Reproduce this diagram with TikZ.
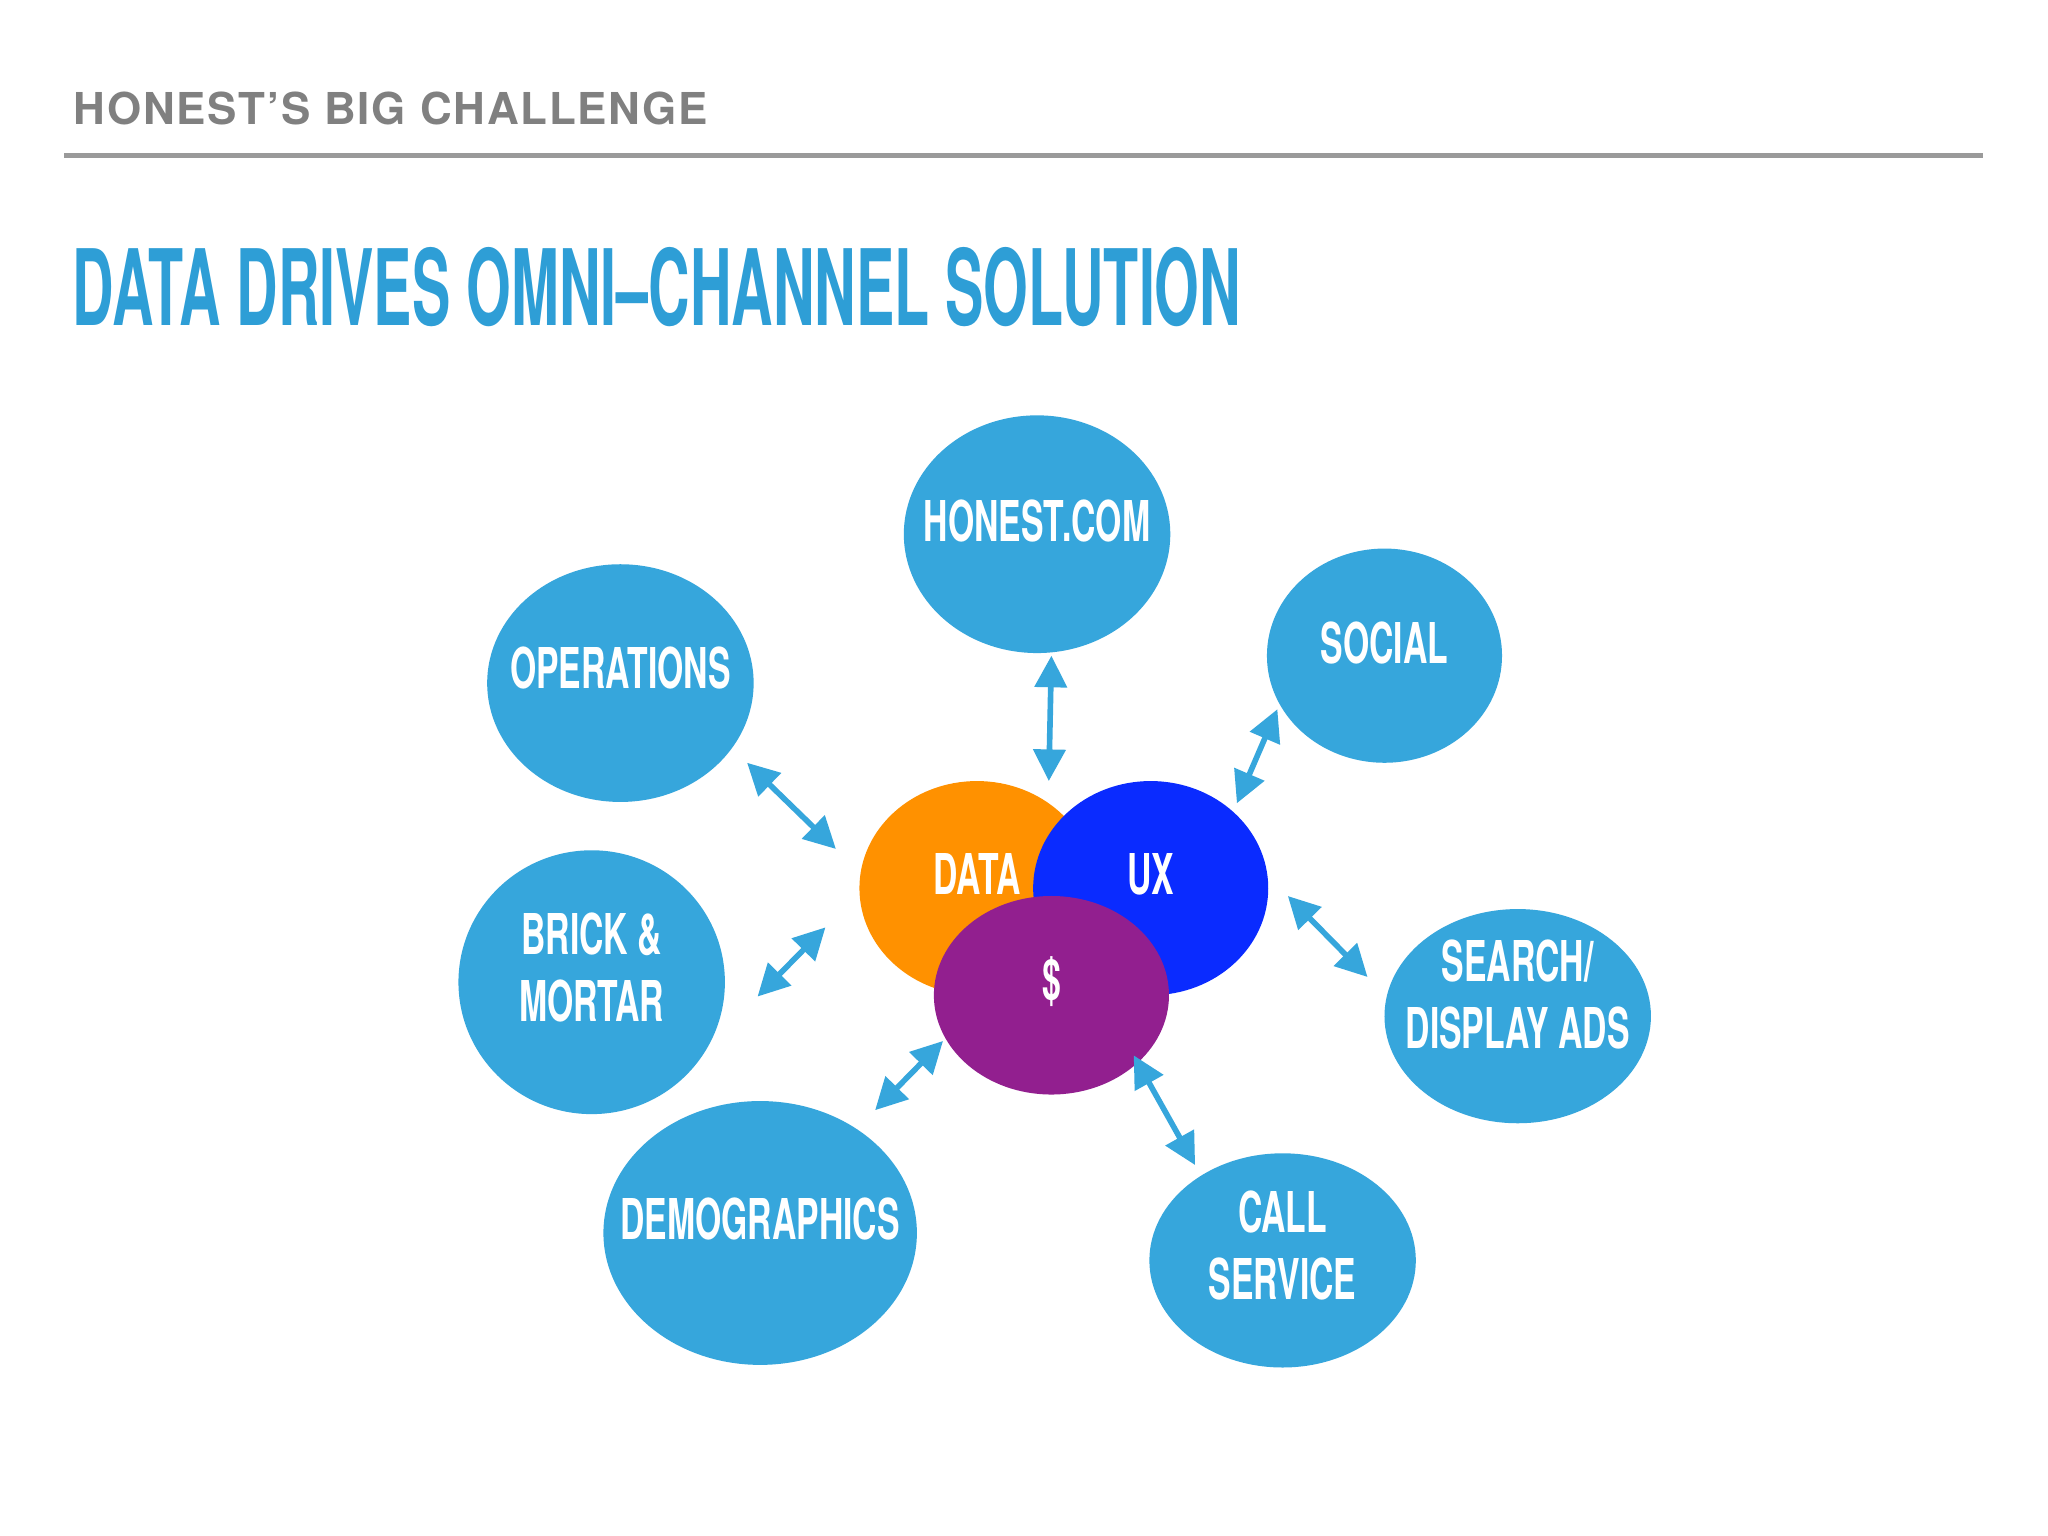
\documentclass[tikz,border=0pt]{standalone}
\usepackage{fontspec}
\usepackage{graphicx}
\setmainfont{TeX Gyre Heros}
\usetikzlibrary{arrows.meta}
\definecolor{cblue}{HTML}{36A6DC}
\definecolor{tblue}{HTML}{2E9ED6}
\definecolor{corange}{HTML}{FF9100}
\definecolor{cux}{HTML}{0A2BFF}
\definecolor{cpurp}{HTML}{921F8F}
\definecolor{cgray}{HTML}{808080}
\newcommand{\cn}[1]{\scalebox{0.6}[1]{\begin{tabular}{@{}c@{}}#1\end{tabular}}}
\begin{document}
\begin{tikzpicture}[x=0.01306cm,y=-0.01306cm,
  lbl/.style={text=white,font=\bfseries\fontsize{16}{19}\selectfont,align=center,inner sep=0},
  arr/.style={cblue,line width=1.6pt,{Triangle[length=9pt,width=9pt]}-{Triangle[length=9pt,width=9pt]}}]
\useasboundingbox (0,0) rectangle (1568,1176);
\fill[white] (0,0) rectangle (1568,1176);
\node[anchor=west,text=cgray,font=\addfontfeature{LetterSpace=4}\bfseries\fontsize{12.5}{16}\selectfont,inner sep=0] (hdr) at (56,83) {HONEST’S BIG CHALLENGE};
\draw[cgray!80,line width=1.5pt] (49,119) -- (1518,119);
\node[anchor=west,text=tblue,font=\bfseries\fontsize{30}{34}\selectfont,inner sep=0] (ttl) at (55,220) {\scalebox{0.545}[1]{DATA DRIVES OMNI–CHANNEL SOLUTION}};
% outer ellipses
\fill[cblue] (794,409) ellipse [x radius=102,y radius=91];
\fill[cblue] (475,523) ellipse [x radius=102,y radius=91];
\fill[cblue] (1060,502) ellipse [x radius=90,y radius=82];
\fill[cblue] (453,752) ellipse [x radius=102,y radius=101];
\fill[cblue] (582,944) ellipse [x radius=120,y radius=101];
\fill[cblue] (982,965) ellipse [x radius=102,y radius=82];
\fill[cblue] (1162,778) ellipse [x radius=102,y radius=82];
\node[lbl] (honest) at (794,404) {\cn{HONEST.COM}};
\node[lbl] (ops) at (475,517) {\cn{OPERATIONS}};
\node[lbl] (social) at (1060,498) {\cn{SOCIAL}};
\node[lbl] (brick) at (453,746) {\cn{BRICK \&\\MORTAR}};
\node[lbl] (demo) at (582,939) {\cn{DEMOGRAPHICS}};
\node[lbl] (call) at (982,959) {\cn{CALL\\SERVICE}};
\node[lbl] (search) at (1162,767) {\cn{SEARCH/\\DISPLAY ADS}};
% centre
\fill[corange] (748,680) ellipse [x radius=90,y radius=82];
\fill[cux] (881,680) ellipse [x radius=90,y radius=82];
\fill[cpurp] (805,762) ellipse [x radius=90,y radius=76];
\node[lbl] (data) at (748,675) {\cn{DATA}};
\node[lbl] (ux) at (881,675) {\cn{UX}};
\node[lbl] (usd) at (805,755) {\cn{\$}};
% arrows
\coordinate (a1) at (805,502); \coordinate (b1) at (803,598);
\coordinate (a2) at (978,543); \coordinate (b2) at (947,615);
\coordinate (a3) at (572,584); \coordinate (b3) at (640,650);
\coordinate (a4) at (632,710); \coordinate (b4) at (580,763);
\coordinate (a5) at (986,686); \coordinate (b5) at (1047,748);
\coordinate (a6) at (722,797); \coordinate (b6) at (670,850);
\coordinate (a7) at (868,808); \coordinate (b7) at (915,892);
\foreach \i in {1,...,7} \draw[arr] (a\i) -- (b\i);
\end{tikzpicture}
\end{document}
